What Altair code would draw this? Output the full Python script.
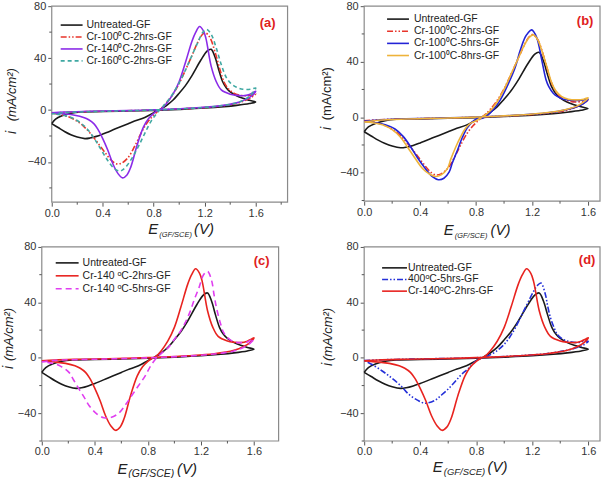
import altair as alt
import pandas as pd

# Cyclic voltammograms of graphite-felt electrodes: E vs SCE (V) against i (mA/cm2).
# Every curve is one closed scan: the flat branch 0 -> 1.6 V, then the return
# branch carrying the anodic peak and the cathodic peak back to 0 V.

UNTREATED_E = [0.00, 0.03, 0.08, 0.15, 0.23, 0.40, 0.60, 0.80, 1.00, 1.20, 1.35, 1.45, 1.55, 1.60,
               1.55, 1.50, 1.45, 1.40, 1.37, 1.34, 1.31, 1.28, 1.25, 1.22, 1.17, 1.10, 1.05, 1.00,
               0.95, 0.90, 0.85, 0.80, 0.73, 0.65, 0.60, 0.50, 0.40, 0.35, 0.30, 0.26, 0.20, 0.15,
               0.10, 0.05, 0.00]
UNTREATED_I = [-10.5, -7.0, -4.5, -2.5, -1.5, -1.2, -0.8, -0.3, 0.5, 1.5, 2.6, 3.6, 5.0, 6.2,
               7.5, 9.0, 11.0, 14.0, 17.0, 22.0, 31.0, 41.0, 46.8, 45.5, 38.5, 26.5, 19.0, 13.0,
               7.5, 3.5, 0.5, -2.0, -5.7, -8.5, -10.5, -14.5, -18.5, -20.3, -21.6, -22.0, -20.8, -19.0,
               -16.5, -13.5, -10.5]

CR100_2H_E = [0.00, 0.10, 0.30, 0.50, 0.70, 0.90, 1.10, 1.30, 1.45, 1.52, 1.57, 1.60,
              1.57, 1.52, 1.47, 1.42, 1.38, 1.35, 1.32, 1.28, 1.24, 1.205, 1.18, 1.14, 1.10, 1.05,
              1.00, 0.95, 0.90, 0.86, 0.82, 0.78, 0.74, 0.70, 0.65, 0.60, 0.55, 0.51, 0.47, 0.42,
              0.37, 0.32, 0.27, 0.22, 0.15, 0.08, 0.00]
CR100_2H_I = [-2.5, -1.8, -1.2, -0.8, -0.3, 0.4, 1.3, 2.8, 5.0, 7.5, 10.0, 12.5,
              11.5, 11.0, 11.5, 13.5, 17.0, 22.0, 31.0, 45.0, 56.0, 59.5, 58.0, 51.0, 42.0, 31.0,
              20.5, 12.0, 5.5, 1.5, -2.0, -6.0, -11.0, -18.0, -28.0, -36.5, -40.8, -41.5, -39.0, -33.0,
              -26.5, -20.0, -14.5, -10.0, -6.0, -3.8, -2.5]

CR140_2H_E = [0.00, 0.10, 0.30, 0.50, 0.70, 0.90, 1.10, 1.30, 1.45, 1.52, 1.57, 1.60,
              1.58, 1.55, 1.50, 1.45, 1.40, 1.33, 1.29, 1.25, 1.21, 1.19, 1.16, 1.13, 1.10, 1.05,
              1.00, 0.95, 0.90, 0.86, 0.83, 0.80, 0.76, 0.72, 0.67, 0.62, 0.59, 0.556, 0.52, 0.48,
              0.44, 0.40, 0.36, 0.33, 0.29, 0.25, 0.18, 0.10, 0.00]
CR140_2H_I = [-2.2, -1.5, -1.0, -0.6, -0.2, 0.5, 1.5, 3.0, 5.5, 8.0, 11.0, 14.5,
              13.5, 12.0, 11.0, 11.3, 12.2, 15.5, 22.0, 34.0, 55.0, 61.0, 64.3, 60.0, 53.0, 37.0,
              22.0, 12.0, 5.0, 1.0, -0.5, -2.5, -6.5, -13.0, -27.0, -44.0, -50.0, -52.3, -49.0, -41.6,
              -31.0, -22.0, -14.5, -10.5, -7.5, -5.7, -4.0, -3.0, -2.2]

CR160_2H_E = [0.00, 0.10, 0.30, 0.50, 0.70, 0.90, 1.10, 1.30, 1.45, 1.52, 1.57, 1.60,
              1.56, 1.50, 1.45, 1.41, 1.37, 1.33, 1.29, 1.25, 1.215, 1.19, 1.15, 1.10, 1.05, 1.00,
              0.95, 0.90, 0.86, 0.82, 0.78, 0.73, 0.68, 0.63, 0.58, 0.55, 0.53, 0.49, 0.44, 0.39,
              0.34, 0.29, 0.24, 0.17, 0.09, 0.00]
CR160_2H_I = [-3.0, -2.0, -1.3, -0.8, -0.3, 0.4, 1.3, 3.0, 5.5, 8.5, 12.5, 17.0,
              16.0, 16.0, 17.5, 20.0, 25.0, 35.0, 48.0, 58.5, 62.0, 60.5, 53.0, 42.0, 31.0, 21.0,
              12.5, 6.0, 1.5, -3.0, -8.5, -18.0, -28.0, -37.0, -44.0, -46.5, -47.0, -45.0, -39.0, -31.0,
              -23.0, -16.0, -11.0, -6.5, -4.0, -3.0]

CR100_5H_E = [0.00, 0.10, 0.30, 0.50, 0.70, 0.90, 1.10, 1.30, 1.45, 1.52, 1.57, 1.60,
              1.57, 1.52, 1.46, 1.42, 1.38, 1.35, 1.32, 1.30, 1.27, 1.233, 1.197, 1.17, 1.15, 1.115,
              1.08, 1.03, 0.97, 0.90, 0.85, 0.80, 0.74, 0.70, 0.666, 0.63, 0.607, 0.57, 0.53, 0.49,
              0.43, 0.38, 0.334, 0.28, 0.22, 0.15, 0.08, 0.00]
CR100_5H_I = [-3.0, -2.0, -1.2, -0.7, -0.2, 0.5, 1.5, 3.0, 5.5, 7.5, 10.0, 13.0,
              12.5, 12.0, 12.5, 13.2, 15.0, 17.5, 22.0, 27.0, 41.0, 57.5, 62.9, 60.5, 57.5, 48.0,
              36.0, 24.0, 12.0, 3.0, -0.5, -1.5, -7.2, -15.0, -24.0, -33.0, -39.6, -44.0, -45.0, -43.0,
              -36.0, -29.0, -21.6, -14.0, -8.5, -5.5, -4.0, -3.0]

CR100_8H_E = [0.00, 0.10, 0.30, 0.50, 0.70, 0.90, 1.10, 1.30, 1.45, 1.52, 1.57, 1.60,
              1.57, 1.52, 1.46, 1.41, 1.37, 1.34, 1.31, 1.27, 1.24, 1.21, 1.18, 1.14, 1.10, 1.05,
              1.00, 0.95, 0.90, 0.85, 0.80, 0.76, 0.725, 0.69, 0.654, 0.62, 0.595, 0.55, 0.51, 0.46,
              0.417, 0.36, 0.31, 0.26, 0.20, 0.13, 0.06, 0.00]
CR100_8H_I = [-3.5, -2.2, -1.3, -0.8, -0.3, 0.5, 1.5, 3.2, 5.8, 8.0, 11.0, 14.0,
              13.0, 12.5, 13.0, 15.0, 19.0, 25.0, 35.0, 48.0, 56.0, 59.3, 57.5, 51.0, 42.0, 31.0,
              20.0, 11.0, 4.5, 0.5, -2.5, -4.5, -8.0, -14.0, -21.6, -30.0, -37.0, -41.5, -42.7, -40.5,
              -37.0, -29.0, -21.6, -14.5, -9.0, -5.5, -4.0, -3.5]

CR140_5H_E = [0.00, 0.10, 0.30, 0.50, 0.70, 0.90, 1.10, 1.30, 1.45, 1.52, 1.57, 1.60,
              1.57, 1.55, 1.50, 1.45, 1.40, 1.37, 1.35, 1.32, 1.30, 1.28, 1.25, 1.22, 1.185, 1.15,
              1.12, 1.08, 1.047, 1.00, 0.95, 0.90, 0.857, 0.82, 0.78, 0.73, 0.68, 0.63, 0.58, 0.52,
              0.468, 0.41, 0.356, 0.32, 0.28, 0.24, 0.205, 0.15, 0.105, 0.05, 0.00]
CR140_5H_I = [-2.9, -1.8, -1.2, -0.8, -0.3, 0.4, 1.3, 2.8, 5.0, 7.5, 10.5, 13.5,
              12.5, 11.5, 11.0, 11.5, 14.6, 18.5, 24.0, 35.0, 45.0, 56.0, 62.4, 60.0, 50.5, 42.0,
              33.7, 25.0, 19.4, 13.4, 7.0, 3.0, -1.0, -6.0, -13.0, -20.0, -27.0, -34.0, -40.0, -43.0,
              -43.2, -40.0, -34.4, -28.5, -22.4, -16.0, -10.5, -6.5, -4.5, -3.4, -2.9]

HT400_5H_E = [0.00, 0.10, 0.30, 0.50, 0.70, 0.90, 1.10, 1.30, 1.45, 1.52, 1.57, 1.60,
              1.57, 1.52, 1.45, 1.41, 1.378, 1.355, 1.33, 1.31, 1.294, 1.262, 1.235, 1.21, 1.15, 1.08,
              1.04, 1.00, 0.94, 0.885, 0.85, 0.81, 0.74, 0.69, 0.645, 0.60, 0.55, 0.50, 0.433, 0.38,
              0.315, 0.27, 0.22, 0.17, 0.126, 0.06, 0.00]
HT400_5H_I = [-2.0, -1.5, -1.0, -0.6, -0.2, 0.5, 1.5, 3.0, 5.5, 7.5, 9.5, 12.0,
              12.0, 11.0, 12.2, 14.0, 17.0, 22.0, 29.0, 37.5, 45.7, 54.0, 52.0, 48.0, 36.0, 21.8,
              15.0, 9.8, 4.5, 1.5, 0.0, -1.4, -8.1, -12.5, -17.6, -22.5, -27.0, -31.0, -32.7, -30.5,
              -26.0, -21.0, -16.5, -12.5, -9.3, -5.0, -2.0]

X_MAJOR = [0.0, 0.4, 0.8, 1.2, 1.6]
X_MINOR = [0.2, 0.6, 1.0, 1.4, 1.8]
Y_MAJOR = [-40, 0, 40, 80]
Y_MINOR = [-60, -20, 20, 60]

CURVES = {
    "untreated": (UNTREATED_E, UNTREATED_I),
    "cr100_2h": (CR100_2H_E, CR100_2H_I),
    "cr140_2h": (CR140_2H_E, CR140_2H_I),
    "cr160_2h": (CR160_2H_E, CR160_2H_I),
    "cr100_5h": (CR100_5H_E, CR100_5H_I),
    "cr100_8h": (CR100_8H_E, CR100_8H_I),
    "cr140_5h": (CR140_5H_E, CR140_5H_I),
    "ht400_5h": (HT400_5H_E, HT400_5H_I),
}

FONT = "Liberation Sans"
DASHDOT = [6, 2, 1.5, 2, 1.5, 2]

# inset = blank strip left of the frame so both rows line up as in a 2x2 figure
# xtitle = (E x, subscript x, (V) x, baseline y, subscript size)
PANELS = [
    dict(tag="(a)", inset=10, xmax=1.85, ymin=-71, w=237, h=197,
         series=[("untreated", "Untreated-GF", "#1a1a1a", []),
                 ("cr100_2h", "Cr-100\u2070C-2hrs-GF", "#e8352b", DASHDOT),
                 ("cr140_2h", "Cr-140\u2070C-2hrs-GF", "#8b2be8", []),
                 ("cr160_2h", "Cr-160\u2070C-2hrs-GF", "#3fa8a2", [4, 3])],
         leg=(9, 31, 35, 19, 12), tagpos=(217, 17), italic_unit=True,
         ytitle=(-40, 127, 89), xtitle=(97, 108, 143, 229, 7.5)),
    dict(tag="(b)", inset=0, xmax=1.686, ymin=-60.5, w=237, h=196,
         series=[("untreated", "Untreated-GF", "#1a1a1a", []),
                 ("cr100_2h", "Cr-100\u2070C-2hrs-GF", "#e8352b", DASHDOT),
                 ("cr100_5h", "Cr-100\u2070C-5hrs-GF", "#2323d6", []),
                 ("cr100_8h", "Cr-100\u2070C-8hrs-GF", "#eeb33a", [])],
         leg=(23, 45, 50, 13, 12.2), tagpos=(222, 15), italic_unit=False,
         ytitle=(-37, 123, 88), xtitle=(80, 91, 127, 230, 7.5)),
    dict(tag="(c)", inset=0, xmax=1.786, ymin=-60, w=238, h=195,
         series=[("untreated", "Untreated-GF", "#1a1a1a", []),
                 ("cr140_2h", "Cr-140 \u1d52C-2hrs-GF", "#e8231f", []),
                 ("cr140_5h", "Cr-140 \u1d52C-5hrs-GF", "#e03ef0", [6, 4])],
         leg=(14, 37, 41, 16, 13), tagpos=(221, 14), italic_unit=True,
         ytitle=(-33, 121, 88), xtitle=(76, 87, 136, 228, 10.5)),
    dict(tag="(d)", inset=0, xmax=1.684, ymin=-60, w=237, h=195,
         series=[("untreated", "Untreated-GF", "#1a1a1a", []),
                 ("ht400_5h", "400\u1d52C-5hrs-GF", "#2430d8", DASHDOT),
                 ("cr140_2h", "Cr-140\u1d52C-2hrs-GF", "#e8231f", [])],
         leg=(18, 43, 44, 21, 11.7), tagpos=(224, 13), italic_unit=True,
         ytitle=(-36, 118, 88), xtitle=(69, 80, 124, 226, 9.5)),
]

ONE = pd.DataFrame({"k": [0]})


def scan_frame(key):
    e, i = CURVES[key]
    return pd.DataFrame({"E": e, "I": i, "step": list(range(len(e)))})


def text_layer(text, x, y, size, **kw):
    return alt.Chart(ONE).mark_text(text=text, fontSize=size, font=FONT, **kw).encode(
        x=alt.value(x), y=alt.value(y))


def panel(p):
    L, w, h = p["inset"], p["w"], p["h"]
    xs = alt.Scale(domain=[0, p["xmax"]], range=[L, L + w], nice=False, zero=False)
    ys = alt.Scale(domain=[p["ymin"], 80], nice=False, zero=False)
    xaxis = alt.Axis(values=X_MAJOR, format=".1f", title=None, grid=False, domain=False,
                     tickSize=4, tickColor="#555", labelFont=FONT, labelFontSize=11,
                     labelColor="#333", labelPadding=1, labelFlush=False)
    yaxis = alt.Axis(values=Y_MAJOR, format="d", title=None, grid=False, domain=False,
                     tickSize=4, tickColor="#555", labelFont=FONT, labelFontSize=11,
                     labelColor="#333", labelPadding=2, offset=-L, labelFlush=False)
    layers = []

    # plot frame
    layers.append(alt.Chart(ONE).mark_rect(fill="white", stroke="#8a8a8a", strokeWidth=1.2).encode(
        x=alt.value(L), x2=alt.value(L + w), y=alt.value(0), y2=alt.value(h)))

    for key, label, color, dash in p["series"]:
        mk = dict(color=color, strokeWidth=1.6, interpolate="catmull-rom")
        if dash:
            mk["strokeDash"] = dash
        layers.append(alt.Chart(scan_frame(key)).mark_line(**mk).encode(
            x=alt.X("E:Q", scale=xs, axis=xaxis),
            y=alt.Y("I:Q", scale=ys, axis=yaxis),
            order="step:O"))

    # minor ticks below the x axis and left of the y axis
    xm = pd.DataFrame({"v": [v for v in X_MINOR if v <= p["xmax"]]})
    layers.append(alt.Chart(xm).mark_rule(color="#555", strokeWidth=1).encode(
        x=alt.X("v:Q", scale=xs, axis=xaxis), y=alt.value(h), y2=alt.value(h + 2.5)))
    ym = pd.DataFrame({"v": [v for v in Y_MINOR if v >= p["ymin"]]})
    layers.append(alt.Chart(ym).mark_rule(color="#555", strokeWidth=1).encode(
        y=alt.Y("v:Q", scale=ys, axis=yaxis), x=alt.value(L), x2=alt.value(L - 2.5)))

    # legend drawn inside the plot, top left
    lx0, lx1, tx, ly, dy = p["leg"]
    for j, (key, label, color, dash) in enumerate(p["series"]):
        mk = dict(color=color, strokeWidth=1.6)
        if dash:
            mk["strokeDash"] = dash
        layers.append(alt.Chart(ONE).mark_rule(**mk).encode(
            x=alt.value(L + lx0), x2=alt.value(L + lx1), y=alt.value(ly + j * dy)))
        layers.append(text_layer(label, L + tx, ly + j * dy, 10.5, align="left",
                                 baseline="middle", color="#222"))

    # panel tag
    layers.append(text_layer(p["tag"], L + p["tagpos"][0], p["tagpos"][1], 13, align="center",
                             baseline="middle", color="#e02020", fontWeight="bold"))

    # y title: i (mA/cm2), rotated
    yx, yi, yu = p["ytitle"]
    layers.append(text_layer("i", L + yx, yi, 14, angle=270, align="center", baseline="middle",
                             fontStyle="italic", color="#222"))
    unit_kw = dict(fontStyle="italic") if p["italic_unit"] else {}
    layers.append(text_layer("(mA/cm\u00b2)", L + yx, yu, 13, angle=270, align="center",
                             baseline="middle", color="#222", **unit_kw))

    # x title: E(GF/SCE) (V) with subscript
    ex, sx, vx, by, ss = p["xtitle"]
    layers.append(text_layer("E", L + ex, by, 15, align="left", baseline="alphabetic",
                             fontStyle="italic", color="#222"))
    layers.append(text_layer("(GF/SCE)", L + sx, by + 3, ss, align="left",
                             baseline="alphabetic", fontStyle="italic", color="#222"))
    layers.append(text_layer("(V)", L + vx, by, 15, align="left", baseline="alphabetic",
                             fontStyle="italic", color="#222"))

    return alt.layer(*layers).properties(width=L + w, height=h)


charts = [panel(p) for p in PANELS]

chart = alt.concat(*charts, columns=2, spacing={"row": 45, "column": 77},
                   bounds="flush").properties(
    padding={"left": 1, "top": -2, "right": 0, "bottom": 0},
    background="white",
).configure_view(stroke="transparent")

chart.save("out.html", embed_options={"renderer": "svg", "actions": False})
